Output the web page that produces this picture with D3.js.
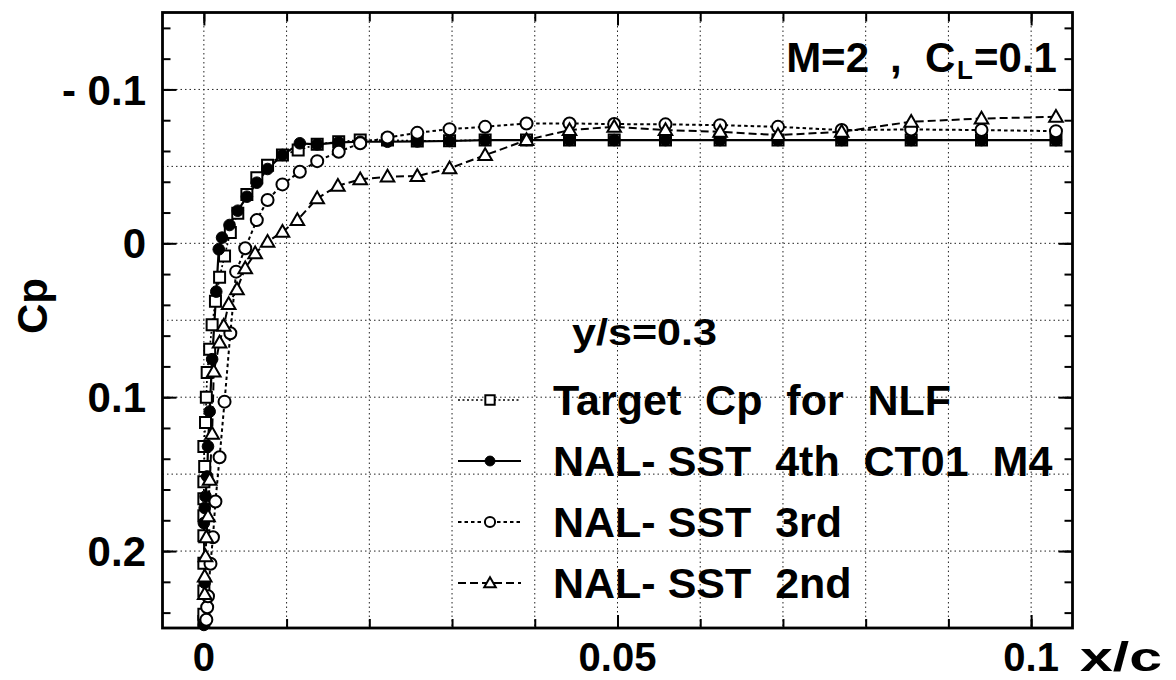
<!DOCTYPE html>
<html>
<head>
<meta charset="utf-8">
<script src="https://cdn.jsdelivr.net/npm/d3@7/dist/d3.min.js"></script>
<style>
  html, body { margin: 0; padding: 0; background: #fff; }
  svg { display: block; font-family: "Liberation Sans", Arial, Helvetica, sans-serif; font-weight: bold; }
  .pre { white-space: pre; }
</style>
</head>
<body>
<svg id="chart" width="1176" height="680"></svg>
<script>
// Cp distributions near the leading edge, y/s = 0.3  (x/c, Cp)
const targetCp = [
  [0.0000, 0.2457], [0.0000, 0.2410], [0.0000, 0.2260], [0.0000, 0.2080],
  [0.0000, 0.1900], [0.0000, 0.1770], [0.0000, 0.1660], [0.0000, 0.1550],
  [0.0001, 0.1450], [0.0000, 0.1320], [0.0002, 0.1165], [0.0003, 0.1000],
  [0.0004, 0.0840], [0.0007, 0.0688], [0.0010, 0.0530], [0.0014, 0.0377],
  [0.0019, 0.0221], [0.0025, 0.0082], [0.0032, -0.0071], [0.0041, -0.0196],
  [0.0052, -0.0318], [0.0064, -0.0426], [0.0077, -0.0508], [0.0095, -0.0574],
  [0.0114, -0.0606], [0.0137, -0.0643], [0.0163, -0.0660], [0.0189, -0.0671],
  [0.0222, -0.0671], [0.0258, -0.0665], [0.0297, -0.0667], [0.0340, -0.0671],
  [0.0390, -0.0671], [0.0442, -0.0671], [0.0496, -0.0671], [0.0558, -0.0671],
  [0.0624, -0.0671], [0.0694, -0.0671], [0.0771, -0.0671], [0.0855, -0.0671],
  [0.0940, -0.0671], [0.1030, -0.0671]
];

const sst4th = [
  [0.0000, 0.2480], [0.0001, 0.2206], [0.0000, 0.1818], [0.0001, 0.1720],
  [0.0002, 0.1645], [0.0004, 0.1515], [0.0005, 0.1320], [0.0007, 0.1093],
  [0.0010, 0.0753], [0.0015, 0.0314], [0.0018, 0.0039], [0.0022, -0.0037],
  [0.0031, -0.0119], [0.0041, -0.0212], [0.0052, -0.0303], [0.0064, -0.0394],
  [0.0077, -0.0483], [0.0095, -0.0574], [0.0116, -0.0650], [0.0137, -0.0643],
  [0.0163, -0.0656], [0.0189, -0.0660], [0.0222, -0.0660], [0.0258, -0.0662],
  [0.0297, -0.0665], [0.0340, -0.0671], [0.0390, -0.0671], [0.0442, -0.0671],
  [0.0496, -0.0671], [0.0558, -0.0671], [0.0624, -0.0671], [0.0694, -0.0671],
  [0.0771, -0.0671], [0.0855, -0.0671], [0.0940, -0.0671], [0.1030, -0.0671]
];

const sst3rd = [
  [0.0003, 0.2446], [0.0004, 0.2365], [0.0005, 0.2294], [0.0008, 0.2082],
  [0.0011, 0.1910], [0.0014, 0.1678], [0.0019, 0.1390], [0.0025, 0.1029],
  [0.0032, 0.0584], [0.0039, 0.0184], [0.0050, 0.0032], [0.0064, -0.0151],
  [0.0077, -0.0281], [0.0095, -0.0383], [0.0116, -0.0465], [0.0137, -0.0534],
  [0.0163, -0.0595], [0.0189, -0.0650], [0.0222, -0.0688], [0.0258, -0.0718],
  [0.0297, -0.0742], [0.0340, -0.0757], [0.0390, -0.0779], [0.0442, -0.0779],
  [0.0496, -0.0775], [0.0558, -0.0773], [0.0624, -0.0768], [0.0694, -0.0757],
  [0.0771, -0.0736], [0.0855, -0.0740], [0.0940, -0.0736], [0.1030, -0.0729]
];

const sst2nd = [
  [0.0001, 0.2280], [0.0001, 0.2165], [0.0002, 0.2035], [0.0003, 0.1910],
  [0.0005, 0.1775], [0.0007, 0.1537], [0.0010, 0.1238], [0.0012, 0.0834],
  [0.0019, 0.0645], [0.0024, 0.0537], [0.0030, 0.0395], [0.0040, 0.0299],
  [0.0050, 0.0162], [0.0062, 0.0065], [0.0077, -0.0010], [0.0095, -0.0075],
  [0.0113, -0.0151], [0.0137, -0.0292], [0.0162, -0.0374], [0.0189, -0.0416],
  [0.0222, -0.0433], [0.0258, -0.0437], [0.0297, -0.0487], [0.0340, -0.0573],
  [0.0390, -0.0671], [0.0442, -0.0736], [0.0496, -0.0757], [0.0558, -0.0736],
  [0.0624, -0.0725], [0.0694, -0.0703], [0.0771, -0.0725], [0.0855, -0.0790],
  [0.0940, -0.0811], [0.1030, -0.0822]
];

const legendLabels = [
  "Target  Cp  for  NLF",
  "NAL- SST  4th  CT01  M4",
  "NAL- SST  3rd",
  "NAL- SST  2nd"
];

const xTickLabels = [0, 0.05, 0.1];
const xMinorTicks = [0, 0.01, 0.02, 0.03, 0.04, 0.05, 0.06, 0.07, 0.08, 0.09, 0.1];
const xGrid = [0, 0.01, 0.02, 0.03, 0.04, 0.05, 0.06, 0.07, 0.08, 0.09, 0.1];
const yTickLabels = [-0.1, 0, 0.1, 0.2];
const yMinorTicks = [-0.14, -0.12, -0.1, -0.08, -0.06, -0.04, -0.02, 0, 0.02, 0.04, 0.06,
                     0.08, 0.1, 0.12, 0.14, 0.16, 0.18, 0.2, 0.22, 0.24];
const yGrid = [-0.1, -0.05, 0, 0.05, 0.1, 0.15, 0.2];

const svg = d3.select("#chart");
const L = 162.5, R = 1072.5, T = 12.5, B = 628;

const x = d3.scaleLinear().domain([-0.005, 0.105]).range([L, R]);
const y = d3.scaleLinear().domain([-0.15, 0.25]).range([T, B]);

// dotted grid
const grid = svg.append("g").attr("stroke", "#222").attr("stroke-width", 1)
  .attr("stroke-dasharray", "1.5,3");
grid.selectAll("line.v").data(xGrid).join("line").attr("class", "v")
  .attr("x1", d => x(d)).attr("x2", d => x(d)).attr("y1", T).attr("y2", B);
grid.selectAll("line.h").data(yGrid).join("line").attr("class", "h")
  .attr("x1", L).attr("x2", R).attr("y1", d => y(d)).attr("y2", d => y(d));

// inward ticks on all four sides
function ticks(axis, transform) {
  const g = svg.append("g").attr("transform", transform).call(axis);
  g.select(".domain").remove();
  g.selectAll(".tick line").attr("stroke", "#000").attr("stroke-width", 2);
  g.selectAll(".tick text").remove();
}
ticks(d3.axisLeft(y).tickValues(yMinorTicks).tickSize(-8), `translate(${L},0)`);
ticks(d3.axisLeft(y).tickValues(yTickLabels).tickSize(-14), `translate(${L},0)`);
ticks(d3.axisRight(y).tickValues(yMinorTicks).tickSize(-8), `translate(${R},0)`);
ticks(d3.axisRight(y).tickValues(yTickLabels).tickSize(-14), `translate(${R},0)`);
ticks(d3.axisBottom(x).tickValues(xMinorTicks).tickSize(-9), `translate(0,${B})`);
ticks(d3.axisBottom(x).tickValues(xTickLabels).tickSize(-13), `translate(0,${B})`);
ticks(d3.axisTop(x).tickValues(xMinorTicks).tickSize(-9), `translate(0,${T})`);
ticks(d3.axisTop(x).tickValues(xTickLabels).tickSize(-13), `translate(0,${T})`);

// tick labels
svg.append("g").selectAll("text").data(yTickLabels).join("text")
  .attr("x", 146).attr("y", d => y(d)).attr("dy", "0.36em")
  .attr("text-anchor", "end").attr("font-size", 42)
  .text(d => d < 0 ? "- " + Math.abs(d) : String(d));
svg.append("g").selectAll("text").data(xTickLabels).join("text")
  .attr("x", d => x(d)).attr("y", 671)
  .attr("text-anchor", "middle").attr("font-size", 40)
  .text(d => String(d));

// axis titles
svg.append("text").attr("x", 1080).attr("y", 671).attr("font-size", 40)
  .attr("textLength", 82).attr("lengthAdjust", "spacingAndGlyphs").text("x/c");
svg.append("text").attr("transform", "translate(47,306) rotate(-90)")
  .attr("text-anchor", "middle").attr("font-size", 42).text("Cp");

// series
const line = d3.line().x(d => x(d[0])).y(d => y(d[1]));
const plot = svg.append("g");

const series = [
  { data: targetCp, dash: "2,2.5", width: 1.7, mark: "square" },
  { data: sst4th, dash: null, width: 2.2, mark: "dot" },
  { data: sst3rd, dash: "3.5,3", width: 2, mark: "circle" },
  { data: sst2nd, dash: "8,4", width: 2, mark: "triangle" }
];

const symSquare = d3.symbol(d3.symbolSquare, 121)();
const symTriangle = d3.symbol(d3.symbolTriangle, 80)();

function drawMark(g, mark, cx, cy, k = 1) {
  if (mark === "square") {
    g.append("path").attr("d", symSquare).attr("transform", `translate(${cx},${cy}) scale(${k})`)
      .attr("fill", "#fff").attr("stroke", "#000").attr("stroke-width", 2 / k);
  } else if (mark === "dot") {
    g.append("circle").attr("cx", cx).attr("cy", cy).attr("r", 5.8 * k)
      .attr("fill", "#000").attr("stroke", "#000").attr("stroke-width", 1);
  } else if (mark === "circle") {
    g.append("circle").attr("cx", cx).attr("cy", cy).attr("r", 6 * k)
      .attr("fill", "#fff").attr("stroke", "#000").attr("stroke-width", 2);
  } else {
    g.append("path").attr("d", symTriangle).attr("transform", `translate(${cx},${cy + 1}) scale(${k})`)
      .attr("fill", "#fff").attr("stroke", "#000").attr("stroke-width", 2 / k);
  }
}

series.forEach(s => {
  plot.append("path").datum(s.data).attr("d", line)
    .attr("fill", "none").attr("stroke", "#000").attr("stroke-width", s.width)
    .attr("stroke-dasharray", s.dash);
});
series.forEach(s => {
  const g = plot.append("g");
  s.data.forEach(d => drawMark(g, s.mark, x(d[0]), y(d[1])));
});

// frame
svg.append("rect").attr("x", L).attr("y", T).attr("width", R - L).attr("height", B - T)
  .attr("fill", "none").attr("stroke", "#000").attr("stroke-width", 2.8);

// title
const title = svg.append("g").attr("font-size", 42);
title.append("text").attr("x", 869).attr("y", 72).attr("text-anchor", "end").text("M=2");
title.append("text").attr("x", 890).attr("y", 72).text(",");
title.append("text").attr("x", 925).attr("y", 72).text("C");
title.append("text").attr("x", 957).attr("y", 79).attr("font-size", 26).text("L");
title.append("text").attr("x", 974).attr("y", 72).text("=0.1");

// legend
const leg = svg.append("g");
leg.append("text").attr("x", 572).attr("y", 345).attr("font-size", 37)
  .attr("textLength", 145).attr("lengthAdjust", "spacingAndGlyphs").text("y/s=0.3");
const rowBase = [415, 476, 537, 598];
series.forEach((s, i) => {
  const cy = rowBase[i] - 15;
  leg.append("line").attr("x1", 458).attr("x2", 521).attr("y1", cy).attr("y2", cy)
    .attr("stroke", "#000").attr("stroke-width", s.width).attr("stroke-dasharray", s.dash);
  drawMark(leg, s.mark, 490, cy, 0.85);
  leg.append("text").attr("class", "pre").attr("x", 553).attr("y", rowBase[i])
    .attr("font-size", 43).text(legendLabels[i]);
});
</script>
</body>
</html>
